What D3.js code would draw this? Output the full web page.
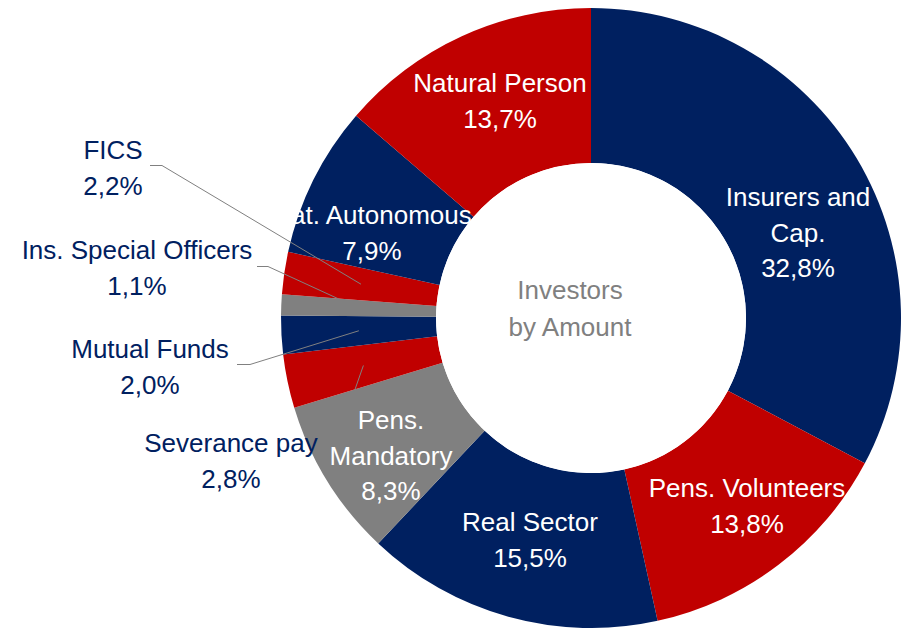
<!DOCTYPE html>
<html>
<head>
<meta charset="utf-8">
<script src="https://cdn.jsdelivr.net/npm/d3@7"></script>
<style>
  body { margin: 0; background: #fff; }
  svg text { font-family: "Liberation Sans", Arial, sans-serif; }
</style>
</head>
<body>
<div class="chart"></div>
<script>
/*** DATA ***/
const categories = ['Insurers and Cap.', 'Pens. Volunteers', 'Real Sector', 'Pens. Mandatory',
  'Severance pay', 'Mutual Funds', 'Ins. Special Officers', 'FICS', 'Nat. Autonomous', 'Natural Person'];
const shares = [32.8, 13.8, 15.5, 8.3, 2.8, 2.0, 1.1, 2.2, 7.9, 13.7];
const centerTitle = ['Investors', 'by Amount'];

/*** LAYOUT ***/
const width = 903, height = 628;
const cx = 591, cy = 318;
const outerR = 310, innerR = 155;
const navy = '#002060', red = '#c00000', grey = '#808080';
const sliceColor = {
  'Insurers and Cap.': navy, 'Pens. Volunteers': red, 'Real Sector': navy,
  'Pens. Mandatory': grey, 'Severance pay': red, 'Mutual Funds': navy,
  'Ins. Special Officers': grey, 'FICS': red, 'Nat. Autonomous': navy, 'Natural Person': red
};
// label placement: line breaks, centre x, first line y, inside(white) or outside(navy)
const labelPos = {
  'Insurers and Cap.': { lines: ['Insurers and', 'Cap.'], x: 798, y: 197, inside: true },
  'Pens. Volunteers': { lines: ['Pens. Volunteers'], x: 747, y: 488, inside: true },
  'Real Sector': { lines: ['Real Sector'], x: 530, y: 522, inside: true },
  'Pens. Mandatory': { lines: ['Pens.', 'Mandatory'], x: 391, y: 420, inside: true },
  'Severance pay': { lines: ['Severance pay'], x: 231, y: 443, inside: false, leader: [[352, 398]] },
  'Mutual Funds': { lines: ['Mutual Funds'], x: 150, y: 349, inside: false, leader: [[237, 364.5], [250, 364.5]] },
  'Ins. Special Officers': { lines: ['Ins. Special Officers'], x: 137, y: 250, inside: false, leader: [[257, 266.5], [268, 266.5]] },
  'FICS': { lines: ['FICS'], x: 113, y: 150, inside: false, leader: [[150, 165.5], [162, 165.5]] },
  'Nat. Autonomous': { lines: ['Nat. Autonomous'], x: 372, y: 215, inside: true },
  'Natural Person': { lines: ['Natural Person'], x: 500, y: 83, inside: true }
};
const lineH = 35.5;
const fontSize = 26;

const fmt = v => d3.format('.1f')(v).replace('.', ',') + '%';

/*** DRAW ***/
const svg = d3.select('.chart')
  .append('svg')
  .attr('width', width)
  .attr('height', height);

const g = svg.append('g')
  .attr('transform', `translate(${cx}, ${cy})`);

const data = categories.map((c, i) => ({ name: c, value: shares[i] }));

const pie = d3.pie()
  .value(d => d.value)
  .sort(null);

const arc = d3.arc()
  .innerRadius(innerR)
  .outerRadius(outerR);

const arcs = pie(data);

g.selectAll('.slice')
  .data(arcs)
  .join('path')
  .attr('class', 'slice')
  .attr('d', arc)
  .attr('fill', d => sliceColor[d.data.name]);

// leader lines to the middle of the ring
svg.append('g')
  .selectAll('polyline')
  .data(arcs.filter(d => labelPos[d.data.name].leader))
  .join('polyline')
  .attr('points', d => {
    const c = arc.centroid(d);
    const pts = labelPos[d.data.name].leader.concat([[c[0] + cx, c[1] + cy]]);
    return pts.map(p => p.join(',')).join(' ');
  })
  .attr('fill', 'none')
  .attr('stroke', grey)
  .attr('stroke-width', 1);

// data labels
const labels = svg.append('g')
  .selectAll('text')
  .data(arcs)
  .join('text')
  .attr('text-anchor', 'middle')
  .style('font-size', fontSize + 'px')
  .attr('fill', d => labelPos[d.data.name].inside ? '#fff' : navy);

labels.each(function(d) {
  const p = labelPos[d.data.name];
  const lines = p.lines.concat([fmt(d.data.value)]);
  d3.select(this).selectAll('tspan')
    .data(lines)
    .join('tspan')
    .attr('x', p.x)
    .attr('y', (l, i) => p.y + i * lineH)
    .attr('dominant-baseline', 'central')
    .text(l => l);
});

// the hole sits on top of the labels, like the original
g.append('circle')
  .attr('r', innerR)
  .attr('fill', '#fff');

svg.append('text')
  .attr('text-anchor', 'middle')
  .style('font-size', fontSize + 'px')
  .attr('fill', grey)
  .selectAll('tspan')
  .data(centerTitle)
  .join('tspan')
  .attr('x', 570)
  .attr('y', (l, i) => 290 + i * 37)
  .attr('dominant-baseline', 'central')
  .text(l => l);
</script>
</body>
</html>
